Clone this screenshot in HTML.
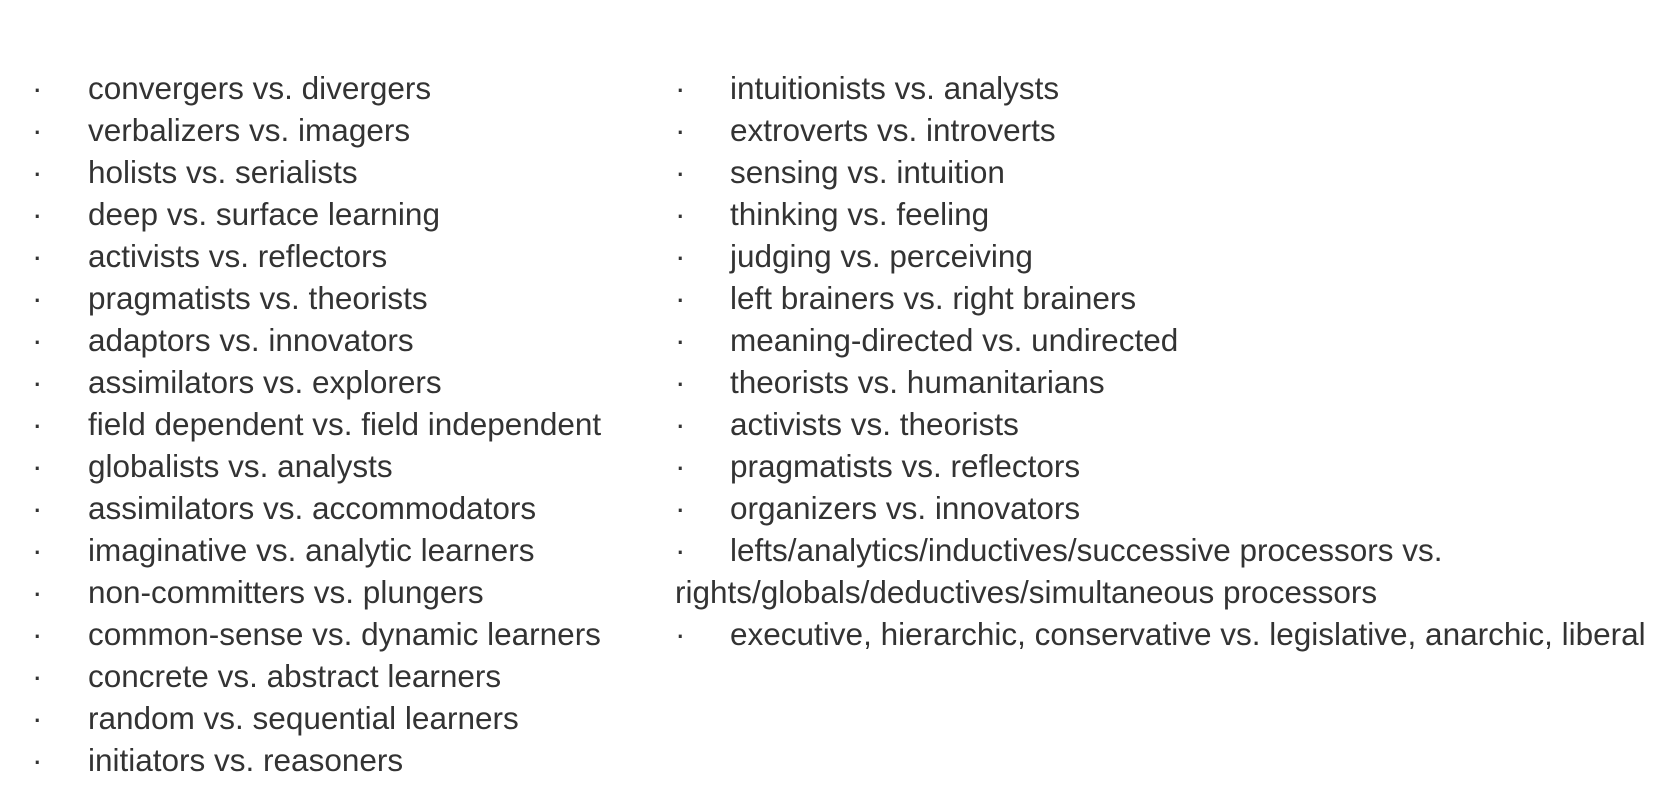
<!DOCTYPE html>
<html><head><meta charset="utf-8"><style>
html,body{margin:0;padding:0;background:#fff;width:1664px;height:804px;overflow:hidden}
.col{position:absolute;top:67px;font-family:"Liberation Sans",sans-serif;font-size:31.5px;line-height:42px;color:#333;white-space:nowrap}
.r{position:relative;height:42px}
.b{position:absolute;left:0}
.t{position:absolute;left:56px}
</style></head><body>
<div class="col" style="left:32px">
<div class="r"><span class="b">·</span><span class="t">convergers vs. divergers</span></div>
<div class="r"><span class="b">·</span><span class="t">verbalizers vs. imagers</span></div>
<div class="r"><span class="b">·</span><span class="t">holists vs. serialists</span></div>
<div class="r"><span class="b">·</span><span class="t">deep vs. surface learning</span></div>
<div class="r"><span class="b">·</span><span class="t">activists vs. reflectors</span></div>
<div class="r"><span class="b">·</span><span class="t">pragmatists vs. theorists</span></div>
<div class="r"><span class="b">·</span><span class="t">adaptors vs. innovators</span></div>
<div class="r"><span class="b">·</span><span class="t">assimilators vs. explorers</span></div>
<div class="r"><span class="b">·</span><span class="t">field dependent vs. field independent</span></div>
<div class="r"><span class="b">·</span><span class="t">globalists vs. analysts</span></div>
<div class="r"><span class="b">·</span><span class="t">assimilators vs. accommodators</span></div>
<div class="r"><span class="b">·</span><span class="t">imaginative vs. analytic learners</span></div>
<div class="r"><span class="b">·</span><span class="t">non-committers vs. plungers</span></div>
<div class="r"><span class="b">·</span><span class="t">common-sense vs. dynamic learners</span></div>
<div class="r"><span class="b">·</span><span class="t">concrete vs. abstract learners</span></div>
<div class="r"><span class="b">·</span><span class="t">random vs. sequential learners</span></div>
<div class="r"><span class="b">·</span><span class="t">initiators vs. reasoners</span></div>
</div>
<div class="col" style="left:675px">
<div class="r"><span class="b">·</span><span class="t" style="left:55px">intuitionists vs. analysts</span></div>
<div class="r"><span class="b">·</span><span class="t" style="left:55px">extroverts vs. introverts</span></div>
<div class="r"><span class="b">·</span><span class="t" style="left:55px">sensing vs. intuition</span></div>
<div class="r"><span class="b">·</span><span class="t" style="left:55px">thinking vs. feeling</span></div>
<div class="r"><span class="b">·</span><span class="t" style="left:55px">judging vs. perceiving</span></div>
<div class="r"><span class="b">·</span><span class="t" style="left:55px">left brainers vs. right brainers</span></div>
<div class="r"><span class="b">·</span><span class="t" style="left:55px">meaning-directed vs. undirected</span></div>
<div class="r"><span class="b">·</span><span class="t" style="left:55px">theorists vs. humanitarians</span></div>
<div class="r"><span class="b">·</span><span class="t" style="left:55px">activists vs. theorists</span></div>
<div class="r"><span class="b">·</span><span class="t" style="left:55px">pragmatists vs. reflectors</span></div>
<div class="r"><span class="b">·</span><span class="t" style="left:55px">organizers vs. innovators</span></div>
<div class="r"><span class="b">·</span><span class="t" style="left:55px">lefts/analytics/inductives/successive processors vs.</span></div>
<div class="r"><span class="b">rights/globals/deductives/simultaneous processors</span></div>
<div class="r"><span class="b">·</span><span class="t" style="left:55px">executive, hierarchic, conservative vs. legislative, anarchic, liberal</span></div>
</div>
</body></html>
